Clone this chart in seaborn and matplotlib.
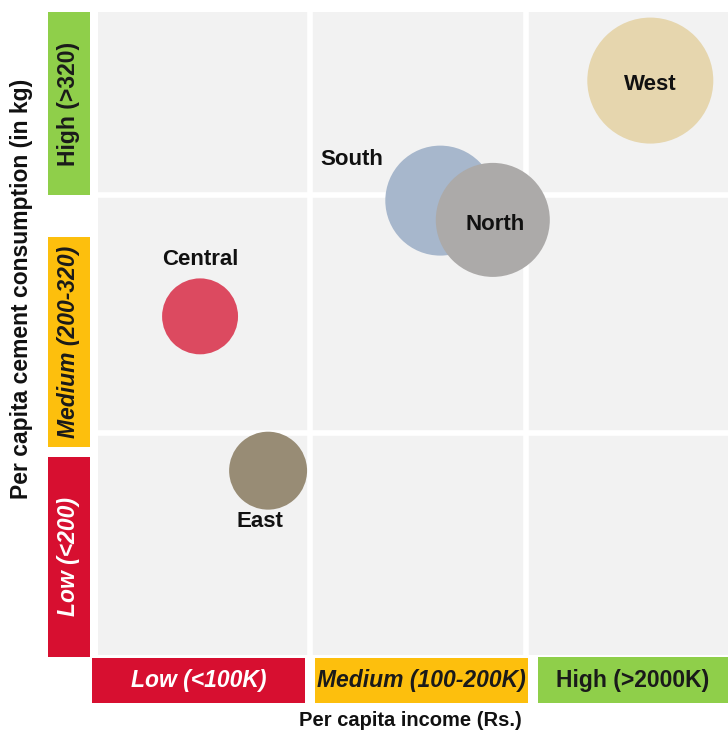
import matplotlib
matplotlib.use("Agg")
import matplotlib.pyplot as plt
from matplotlib.patches import Rectangle
import seaborn as sns
import pandas as pd

# ---- data ----
regions = ["West", "South", "North", "Central", "East"]
income_pos = [2.63, 1.63, 1.88, 0.486, 0.81]        # position on income scale (0-3, one unit per band)
consumption_pos = [2.68, 2.12, 2.03, 1.58, 0.86]    # position on consumption scale (0-3)
bubble_size = [8230, 6270, 6740, 2990, 3150]
region_colors = ["#e6d6ae", "#a7b7cc", "#acaaa9", "#dc4a60", "#988c75"]

x_categories = ["Low (<100K)", "Medium (100-200K)", "High (>2000K)"]
y_categories = ["Low (<200)", "Medium (200-320)", "High (>320)"]
x_title = "Per capita income (Rs.)"
y_title = "Per capita cement consumption (in kg)"

df = pd.DataFrame({"region": regions, "income": income_pos,
                   "consumption": consumption_pos, "size": bubble_size})

sns.set_theme(style="darkgrid")
plt.rcParams["font.family"] = ["Liberation Sans", "DejaVu Sans"]

W, H = 728, 740
fig = plt.figure(figsize=(W / 100, H / 100), dpi=100)
fig.patch.set_facecolor("white")

def fr(x0, y0, x1, y1):
    """pixel box (top-left origin) -> figure fraction rect"""
    return (x0 / W, 1 - y1 / H, (x1 - x0) / W, (y1 - y0) / H)

ax = fig.add_axes(fr(98, 12, 728, 655))
ax.set_facecolor("#f2f2f2")

sns.scatterplot(data=df, x="income", y="consumption", hue="region",
                palette=dict(zip(regions, region_colors)),
                size="region", sizes=dict(zip(regions, bubble_size)),
                linewidth=0, legend=False, ax=ax, zorder=3)

ax.set_xlim(0, 3)
ax.set_ylim(0, 3)
ax.set_xticks([1.01, 2.04])
ax.set_yticks([1.036, 2.146])
ax.grid(True, color="white", linewidth=4)
ax.tick_params(length=0, labelbottom=False, labelleft=False)
ax.set_xlabel("")
ax.set_ylabel("")
for s in ax.spines.values():
    s.set_visible(False)

# bubble labels
lab = dict(fontsize=16, fontweight="bold", color="#111111", zorder=5)
offsets = {"West": (0, -0.02, "center"), "South": (-0.42, 0.19, "center"),
           "North": (0.01, -0.02, "center"), "Central": (0.0, 0.265, "center"),
           "East": (-0.04, -0.235, "center")}
for r, xv, yv in zip(regions, income_pos, consumption_pos):
    dx, dy, ha = offsets[r]
    ax.text(xv + dx, yv + dy, r, ha=ha, va="center", **lab)

# category boxes
green, orange, red = "#8fcf4a", "#fdbf0d", "#d70f30"
x_boxes = [(92, 658, 305, 703, red, "white", "italic"),
           (315, 658, 528, 703, orange, "#1a1a1a", "italic"),
           (538, 657, 728, 703, green, "#1a1a1a", "normal")]
for (x0, y0, x1, y1, c, tc, st), txt in zip(x_boxes, x_categories):
    fig.add_artist(Rectangle(fr(x0, y0, x1, y1)[:2], (x1 - x0) / W, (y1 - y0) / H,
                             transform=fig.transFigure, facecolor=c, edgecolor="none"))
    fig.text((x0 + x1) / 2 / W, 1 - (y0 + y1) / 2 / H, txt, ha="center", va="center",
             color=tc, fontsize=16.5, fontweight="bold", style=st)

y_boxes = [(48, 457, 90, 657, red, "white", "italic"),
           (48, 237, 90, 447, orange, "#1a1a1a", "italic"),
           (48, 12, 90, 195, green, "#1a1a1a", "normal")]
for (x0, y0, x1, y1, c, tc, st), txt in zip(y_boxes, y_categories):
    fig.add_artist(Rectangle(fr(x0, y0, x1, y1)[:2], (x1 - x0) / W, (y1 - y0) / H,
                             transform=fig.transFigure, facecolor=c, edgecolor="none"))
    fig.text((x0 + x1) / 2 / W, 1 - (y0 + y1) / 2 / H, txt, ha="center", va="center",
             rotation=90, color=tc, fontsize=16.5, fontweight="bold", style=st)

fig.text(410 / W, 1 - 721 / H, x_title, ha="center", va="center",
         fontsize=14.5, fontweight="bold", color="#111111")
fig.text(22 / W, 1 - 289 / H, y_title, ha="center", va="center", rotation=90,
         fontsize=16.5, fontweight="bold", color="#111111")

fig.savefig("out.png", dpi=100, facecolor="white")
